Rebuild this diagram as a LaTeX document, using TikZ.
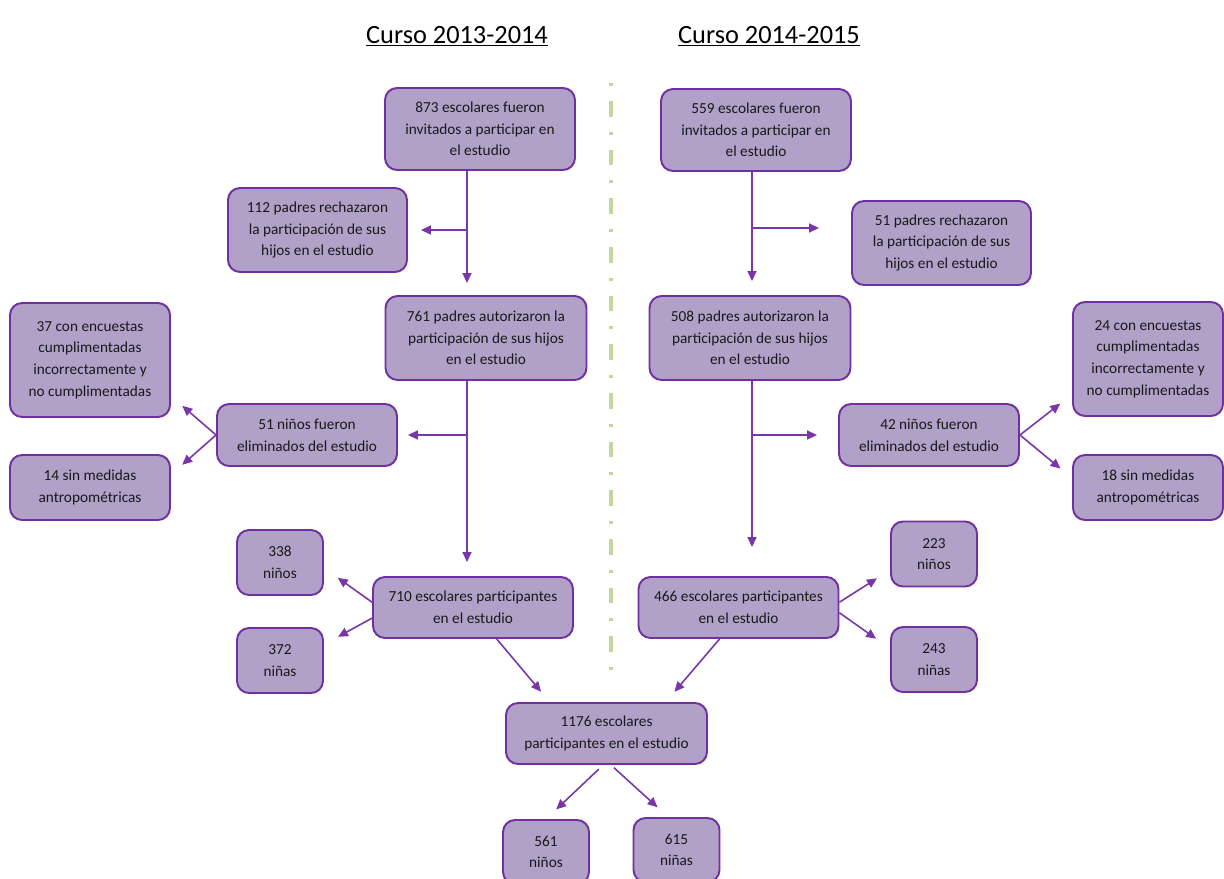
\documentclass[tikz,border=0pt]{standalone}
\usepackage{fontspec}
\setmainfont{Carlito}
\usetikzlibrary{positioning}
\usetikzlibrary{calc}
\usetikzlibrary{arrows.meta}

\definecolor{boxfill}{HTML}{B1A0C7}
\definecolor{boxline}{HTML}{7030A0}
\definecolor{linkcol}{HTML}{7A35A8}
\definecolor{sepgreen}{HTML}{C3D69B}

\tikzset{
  box/.style={rectangle, rounded corners=0.24cm, draw=boxline, line width=1.1pt,
              fill=boxfill, align=center, text=black!90, inner sep=1pt,
              font=\fontsize{8.7}{12.3}\selectfont},
  invbox/.style={box, minimum width=3.8cm, minimum height=1.64cm},
  autbox/.style={box, minimum width=4.02cm, minimum height=1.68cm},
  rejbox/.style={box, minimum width=3.58cm, minimum height=1.68cm},
  elimbox/.style={box, minimum width=3.6cm, minimum height=1.24cm},
  partbox/.style={box, minimum width=4.0cm, minimum height=1.22cm},
  kidbox/.style={box, minimum width=1.72cm, minimum height=1.3cm},
  arr/.style={draw=linkcol, line width=0.9pt, -{Triangle[length=0.2cm,width=0.18cm]}},
  title/.style={font=\fontsize{15}{18}\selectfont, anchor=base},
}

\begin{document}
\begin{tikzpicture}[x=0.02cm, y=-0.02cm]
    \useasboundingbox (0,0) rectangle (1224,879);
    \clip (0,0) rectangle (1224,879);

    % titles
    \node [title] (cur1) at (457,43) {\underline{Curso 2013-2014}};
    \node [title] (cur2) at (769,43) {\underline{Curso 2014-2015}};

    % separator
    \draw [sepgreen, line width=2.2pt,
           dash pattern=on 1.7pt off 8.5pt on 9pt off 8.5pt] (611,83) -- (611,678);

    % course 2013-2014
    \node [invbox] (inv1) at (480,129) {873 escolares fueron\\invitados a participar en\\el estudio};
    \node [rejbox] (rej1) at (317.5,230) {112 padres rechazaron\\la participación de sus\\hijos en el estudio};
    \node [autbox] (aut1) at (486,338) {761 padres autorizaron la\\participación de sus hijos\\en el estudio};
    \node [elimbox] (elim1) at (307,435) {51 niños fueron\\eliminados del estudio};
    \node [box, minimum width=3.2cm, minimum height=2.28cm] (exc1) at (90,360)
          {37 con encuestas\\cumplimentadas\\incorrectamente y\\no cumplimentadas};
    \node [box, minimum width=3.2cm, minimum height=1.3cm] (exc2) at (90,487.5)
          {14 sin medidas\\antropométricas};
    \node [partbox] (part1) at (473,607.5) {710 escolares participantes\\en el estudio};
    \node [kidbox] (boy1) at (280,562.5) {338\\niños};
    \node [kidbox] (girl1) at (280,660.5) {372\\niñas};

    % course 2014-2015
    \node [invbox] (inv2) at (756,130) {559 escolares fueron\\invitados a participar en\\el estudio};
    \node [rejbox] (rej2) at (941.5,243) {51 padres rechazaron\\la participación de sus\\hijos en el estudio};
    \node [autbox] (aut2) at (750,338) {508 padres autorizaron la\\participación de sus hijos\\en el estudio};
    \node [elimbox] (elim2) at (929,435) {42 niños fueron\\eliminados del estudio};
    \node [box, minimum width=3.0cm, minimum height=2.28cm] (exc3) at (1148,359)
          {24 con encuestas\\cumplimentadas\\incorrectamente y\\no cumplimentadas};
    \node [box, minimum width=3.0cm, minimum height=1.3cm] (exc4) at (1148,487.5)
          {18 sin medidas\\antropométricas};
    \node [partbox] (part2) at (738.5,607.5) {466 escolares participantes\\en el estudio};
    \node [kidbox] (boy2) at (934,554) {223\\niños};
    \node [kidbox] (girl2) at (934,659.5) {243\\niñas};

    % both courses
    \node [box, minimum width=4.02cm, minimum height=1.22cm] (total) at (606.5,733.5)
          {1176 escolares\\participantes en el estudio};
    \node [kidbox, minimum height=1.28cm] (boy3) at (546,852) {561\\niños};
    \node [kidbox, minimum height=1.28cm] (girl3) at (676.5,850) {615\\niñas};

    % trunks
    \coordinate (tl) at (467,0);
    \coordinate (tr) at (752,0);
    \coordinate (br2) at (752,228);

    \draw [arr, shorten >=0.24cm] (tl |- inv1.south) -- (tl |- aut1.north);
    \draw [arr, shorten >=0.26cm] (tl |- rej1) -- (rej1.east);
    \draw [arr, shorten >=0.28cm] (tl |- aut1.south) -- (tl |- part1.north);
    \draw [arr, shorten >=0.2cm] (tl |- elim1) -- (elim1.east);

    \draw [arr, shorten >=0.28cm] (tr |- inv2.south) -- (tr |- aut2.north);
    \draw [arr, shorten >=0.64cm] (br2) -- (br2 -| rej2.west);
    \draw [arr, shorten >=0.58cm] (tr |- aut2.south) -- (tr |- part2.north);
    \draw [arr, shorten >=0.42cm] (tr |- elim2) -- (elim2.west);

    % branches
    \draw [arr, shorten >=0.3cm] (elim1.west) -- (exc1.-24);
    \draw [arr, shorten >=0.3cm] (elim1.west) -- (exc2.9);
    \draw [arr, shorten >=0.3cm] (elim2.east) -- (exc3.205);
    \draw [arr, shorten >=0.3cm] (elim2.east) -- (exc4.173);

    \draw [arr, shorten >=0.34cm] (part1.177) -- (boy1.-7);
    \draw [arr, shorten >=0.32cm] (part1.186) -- (girl1.20);
    \draw [arr, shorten >=0.31cm] (part2.3) -- (boy2.200);
    \draw [arr, shorten >=0.34cm] (part2.-3) -- (girl2.166);

    \draw [arr, shorten >=0.27cm] (part1.-53) -- (total.151);
    \draw [arr, shorten >=0.27cm] (part2.239) -- (total.28);

    \draw [arr, shorten <=0.12cm, shorten >=0.28cm] (total.264) -- (boy3.north);
    \draw [arr, shorten <=0.08cm, shorten >=0.29cm] (total.-82) -- (girl3.104);
\end{tikzpicture}
\end{document}
